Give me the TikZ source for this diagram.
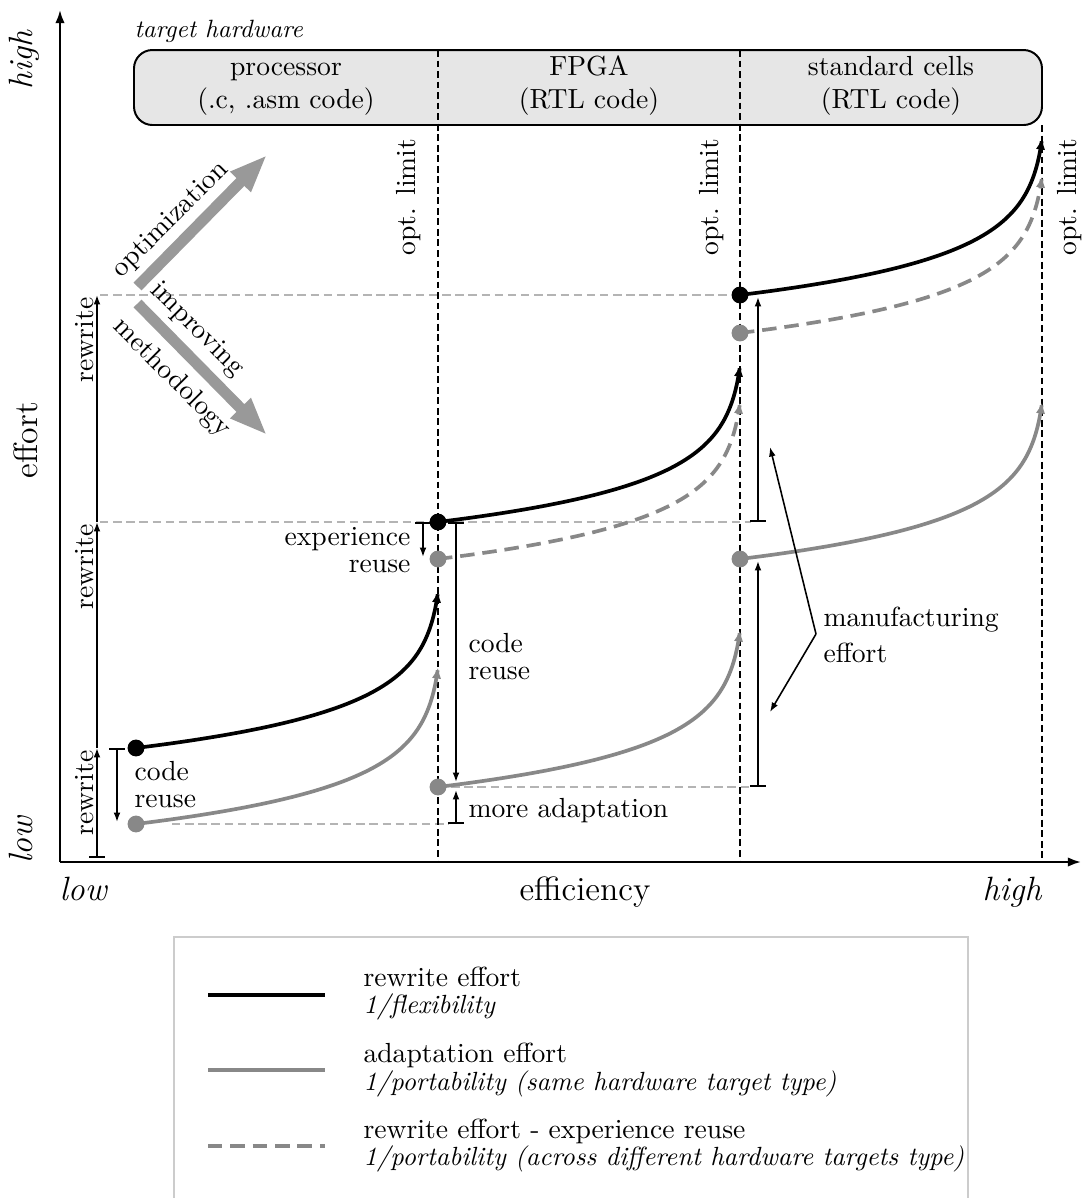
\documentclass[tikz,border=0pt]{standalone}
\usetikzlibrary{arrows.meta}
\definecolor{curvegray}{RGB}{136,136,136}
\definecolor{guidegray}{RGB}{180,180,180}
\definecolor{arrowgray}{RGB}{153,153,153}
\definecolor{boxgray}{RGB}{230,230,230}
\definecolor{framegray}{RGB}{204,204,204}
\newcommand\nsz{\fontsize{10.5}{12.6}\selectfont}
\newcommand\isz{\fontsize{10}{12}\selectfont}
\newcommand\lsz{\fontsize{12.8}{15}\selectfont}
% one effort curve: flat start, vertical tangent at the optimisation limit
\newcommand\effortcurve[2]{%
  \draw[#1, shift={(#2)}] plot[smooth, variable=\t, domain=0:4.12, samples=40]
    ({307*(1-exp(-\t))}, {-38*\t});}
\begin{document}
\begin{tikzpicture}[x=0.38pt, y=-0.38pt,
  axis/.style={line width=0.8pt, -{Latex[length=5pt,width=3.6pt]}},
  limit/.style={line width=0.6pt, dash pattern=on 2.6pt off 1.4pt},
  guide/.style={line width=0.5pt, guidegray, dash pattern=on 3.2pt off 1.8pt},
  rwline/.style={line width=1.4pt},
  adline/.style={line width=1.4pt, curvegray},
  exline/.style={line width=1.4pt, curvegray, dash pattern=on 5.5pt off 3pt},
  tipped/.style={-{Latex[length=4.2pt,width=3.6pt]}},
  dot/.style={circle, inner sep=0pt, minimum size=6.4pt, fill=#1},
  meas/.style={line width=0.6pt, -{Latex[length=3.6pt,width=2.6pt]}},
  barmeas/.style={line width=0.6pt, {Bar[width=6pt]}-{Latex[length=3.6pt,width=2.6pt]}},
  bigarrow/.style={line width=4.2pt, arrowgray, -{Triangle[length=14.4pt,width=10pt]}},
  txt/.style={inner sep=0pt, font=\nsz},
  itxt/.style={inner sep=0pt, font=\isz\itshape},
  vtxt/.style={inner sep=0pt, rotate=90, font=\nsz},
]
\useasboundingbox (0,0) rectangle (1082,1198);

% ---------- target hardware band ----------
\node[inner sep=0pt, font=\fontsize{9.5}{11}\selectfont\itshape, anchor=base west] (th) at (134,37) {target hardware};
\node[draw, line width=0.75pt, fill=boxgray, rounded corners=7pt, inner sep=0pt,
      minimum width=345.04pt, minimum height=28.5pt] (hw) at (588,87.5) {};
\node[txt, anchor=base] (p1) at (286,75) {processor};
\node[txt, anchor=base] (p2) at (286,108) {(.c, .asm code)};
\node[txt, anchor=base] (f1) at (589,75) {FPGA};
\node[txt, anchor=base] (f2) at (589,108) {(RTL code)};
\node[txt, anchor=base] (s1) at (891,75) {standard cells};
\node[txt, anchor=base] (s2) at (891,108) {(RTL code)};

% ---------- key points ----------
\coordinate (O) at (60,862);
\coordinate (Ytop) at (60,10);
\coordinate (Xend) at (1081,862);
\coordinate (b1) at (136,748);
\coordinate (b2) at (438,522);
\coordinate (b3) at (740,295);
\coordinate (a1) at (136,824);
\coordinate (a2) at (438,787);
\coordinate (a3) at (740,559);
\coordinate (e1) at (438,559);
\coordinate (e2) at (740,333);

% ---------- light guide lines ----------
\coordinate (g1) at (100,295);
\coordinate (g2) at (100,522);
\coordinate (g2r) at (751,522);
\coordinate (g3r) at (751,787);
\coordinate (g4) at (172,824);
\coordinate (g4r) at (449,824);
\draw[guide] (g1) -- (b3);
\draw[guide] (g2) -- (g2r);
\draw[guide] (a2) -- (g3r);
\draw[guide] (g4) -- (g4r);

% ---------- optimisation limits ----------
\coordinate (L1t) at (438,50);
\coordinate (L1b) at (438,862);
\coordinate (L2t) at (740,50);
\coordinate (L2b) at (740,862);
\coordinate (L3t) at (1042,125);
\coordinate (L3b) at (1042,862);
\draw[limit] (L1t) -- (L1b);
\draw[limit] (L2t) -- (L2b);
\draw[limit] (L3t) -- (L3b);
\node[vtxt, anchor=base] (ol1) at (416,197) {opt. limit};
\node[vtxt, anchor=base] (ol2) at (718,197) {opt. limit};
\node[vtxt, anchor=base] (ol3) at (1076,197) {opt. limit};

% ---------- axes ----------
\draw[axis] (O) -- (Ytop);
\draw[axis] (O) -- (Xend);
\node[vtxt, anchor=base, font=\lsz\itshape] (yhigh) at (33,60) {high};
\node[vtxt, anchor=base, font=\lsz\itshape] (ylow) at (33,840) {low};
\node[vtxt, anchor=base, font=\lsz] (ylab) at (38,440) {effort};
\node[txt, anchor=base west, font=\lsz\itshape] (xlow) at (59,900) {low};
\node[txt, anchor=base east, font=\lsz\itshape] (xhigh) at (1042,900) {high};
\node[txt, anchor=base, font=\lsz] (xlab) at (585,900) {efficiency};

% ---------- effort curves ----------
\effortcurve{exline, tipped}{e1}
\effortcurve{exline, tipped}{e2}
\effortcurve{adline, tipped}{a1}
\effortcurve{adline, tipped}{a2}
\effortcurve{adline, tipped}{a3}
\effortcurve{rwline, tipped}{b1}
\effortcurve{rwline, tipped}{b2}
\effortcurve{rwline, tipped}{b3}
\node[dot=curvegray] (de1) at (e1) {};
\node[dot=curvegray] (de2) at (e2) {};
\node[dot=curvegray] (da1) at (a1) {};
\node[dot=curvegray] (da2) at (a2) {};
\node[dot=curvegray] (da3) at (a3) {};
\node[dot=black] (db1) at (b1) {};
\node[dot=black] (db2) at (b2) {};
\node[dot=black] (db3) at (b3) {};

% ---------- optimisation / methodology arrows ----------
\coordinate (opt0) at (137.5,286.5);
\coordinate (opt1) at (267,155);
\coordinate (met0) at (137.5,303.5);
\coordinate (met1) at (267,435);
\draw[bigarrow] (opt0) -- (opt1);
\draw[bigarrow] (met0) -- (met1);
\node[txt, rotate=45] (optl) at (171,220) {optimization};
\node[txt, rotate=-45] (impl) at (197,330) {improving};
\node[txt, rotate=-45] (metl) at (172,378) {methodology};

% ---------- rewrite steps on the effort axis ----------
\coordinate (R0) at (97,858);
\coordinate (R1) at (97,748);
\coordinate (R2) at (97,522);
\coordinate (R3) at (97,295);
\draw[barmeas] (R0) -- (R1);
\draw[meas] (R1) -- (R2);
\draw[meas] (R2) -- (R3);
\node[vtxt, anchor=south east] (rw1) at (94,750) {rewrite};
\node[vtxt, anchor=south east] (rw2) at (94,524) {rewrite};
\node[vtxt, anchor=south east] (rw3) at (94,297) {rewrite};

% ---------- reuse and adaptation ----------
\coordinate (CR1) at (117,748);
\coordinate (CR2) at (117,822);
\draw[barmeas] (CR1) -- (CR2);
\node[txt, anchor=base west] (cr1) at (134,780) {code};
\node[txt, anchor=base west] (cr2) at (134,807) {reuse};

\coordinate (EX1) at (423,522);
\coordinate (EX2) at (423,557);
\draw[barmeas] (EX1) -- (EX2);
\node[txt, anchor=base east] (ex1) at (411,545) {experience};
\node[txt, anchor=base east] (ex2) at (411,572) {reuse};

\coordinate (CB1) at (456,522);
\coordinate (CB2) at (456,782);
\draw[barmeas] (CB1) -- (CB2);
\node[txt, anchor=base west] (cb1) at (468,652) {code};
\node[txt, anchor=base west] (cb2) at (468,679) {reuse};

\coordinate (MA1) at (456,824);
\coordinate (MA2) at (456,790);
\draw[barmeas] (MA1) -- (MA2);
\node[txt, anchor=base west] (ma) at (468,817) {more adaptation};

% ---------- manufacturing effort ----------
\coordinate (M1a) at (758,522);
\coordinate (M1b) at (758,297);
\coordinate (M2a) at (758,787);
\coordinate (M2b) at (758,561);
\draw[barmeas] (M1a) -- (M1b);
\draw[barmeas] (M2a) -- (M2b);
\node[txt, anchor=base west] (mf1) at (823,626) {manufacturing};
\node[txt, anchor=base west] (mf2) at (823,662) {effort};
\coordinate (V) at (816,634);
\coordinate (Vup) at (770,447);
\coordinate (Vdn) at (770,712);
\draw[meas] (V) -- (Vup);
\draw[meas] (V) -- (Vdn);

% ---------- legend ----------
\coordinate (Fbl) at (174,1198);
\coordinate (Ftr) at (968,937);
\coordinate (Fbr) at (968,1198);
\draw[framegray, line width=0.6pt] (Fbl) |- (Ftr) -- (Fbr);
\coordinate (k1a) at (208,995);
\coordinate (k1b) at (325,995);
\coordinate (k2a) at (208,1070);
\coordinate (k2b) at (325,1070);
\coordinate (k3a) at (208,1146);
\coordinate (k3b) at (325,1146);
\draw[rwline] (k1a) -- (k1b);
\draw[adline] (k2a) -- (k2b);
\draw[exline] (k3a) -- (k3b);
\node[txt, anchor=base west] (t1a) at (363,986) {rewrite effort};
\node[itxt, anchor=base west] (t1b) at (363,1013) {1/flexibility};
\node[txt, anchor=base west] (t2a) at (363,1062) {adaptation effort};
\node[itxt, anchor=base west] (t2b) at (363,1090) {1/portability (same hardware target type)};
\node[txt, anchor=base west] (t3a) at (363,1138) {rewrite effort - experience reuse};
\node[itxt, anchor=base west] (t3b) at (363,1165) {1/portability (across different hardware targets type)};
\end{tikzpicture}
\end{document}
